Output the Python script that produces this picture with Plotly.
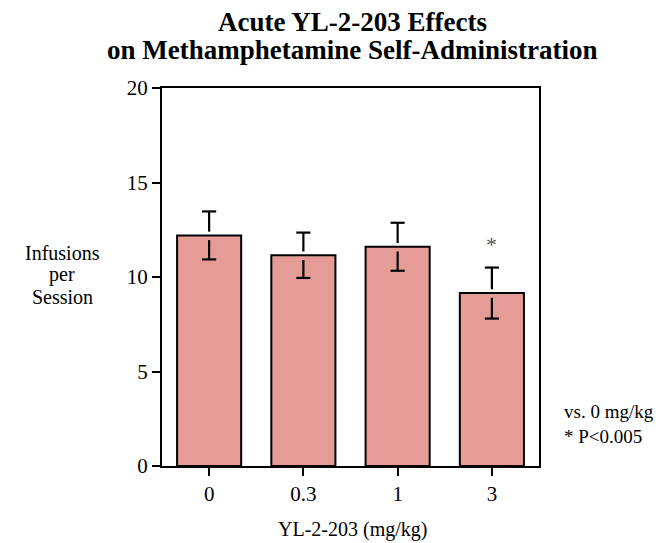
import plotly.graph_objects as go

doses = ["0", "0.3", "1", "3"]
means = [12.2, 11.15, 11.6, 9.15]
sems = [1.27, 1.2, 1.27, 1.35]
sig_marks = ["", "", "", "*"]

title_lines = ["Acute YL-2-203 Effects", "on Methamphetamine Self-Administration"]
ytitle_lines = ["Infusions", "per", "Session"]
note_lines = ["vs. 0 mg/kg", "* P<0.005"]
xtitle = "YL-2-203 (mg/kg)"

x = list(range(len(doses)))
SERIF = "Liberation Serif, Times New Roman, serif"

fig = go.Figure()
fig.add_trace(go.Bar(
    x=x, y=means, width=0.68,
    marker=dict(color="#E59C96", line=dict(color="black", width=2)),
    showlegend=False, hoverinfo="skip"))

# error bars with a gap at the bar top
gap_up, gap_dn, cap = 0.2, 0.25, 0.075
ex, ey = [], []
for xi, m, s in zip(x, means, sems):
    ex += [xi, xi, None, xi - cap, xi + cap, None, xi, xi, None, xi - cap, xi + cap, None]
    ey += [m + gap_up, m + s, None, m + s, m + s, None, m - gap_dn, m - s, None, m - s, m - s, None]
fig.add_trace(go.Scatter(x=ex, y=ey, mode="lines", line=dict(color="black", width=2.2),
                         showlegend=False, hoverinfo="skip"))

for xi, m, s, t in zip(x, means, sems, sig_marks):
    if t:
        fig.add_annotation(x=xi, y=m + s + 1.2, text=t, showarrow=False,
                           font=dict(family=SERIF, size=22, color="#555"))

def text_lines(lines, x0, y_top, dy, anchor, size, bold=False):
    for i, ln in enumerate(lines):
        fig.add_annotation(xref="paper", yref="paper", x=x0, y=y_top - i * dy,
                           xanchor=anchor, yanchor="middle", showarrow=False,
                           text=f"<b>{ln}</b>" if bold else ln,
                           font=dict(family=SERIF, size=size, color="black"))

text_lines(title_lines, 0.504, 1.1746, 0.0741, "center", 27, bold=True)
text_lines(ytitle_lines, -0.265, 0.5635, 0.0582, "center", 20)
text_lines(xtitle.split("\n"), 0.504, -0.169, 0, "center", 20)

fig.add_annotation(xref="paper", yref="paper", x=1.061, y=0.110, xanchor="left", yanchor="middle",
                   text="<br>".join(note_lines), showarrow=False, align="left",
                   font=dict(family=SERIF, size=19, color="black"))

fig.update_layout(
    width=669, height=543,
    margin=dict(l=154, r=138, t=80, b=85),
    paper_bgcolor="white", plot_bgcolor="white",
    font=dict(family=SERIF, size=21, color="black"),
    xaxis=dict(range=[-0.5, 3.5], tickvals=x, ticktext=doses, ticks="outside", ticklen=8,
               tickwidth=2, tickcolor="black", showline=True, linecolor="black", linewidth=2,
               mirror=True, showgrid=False, zeroline=False),
    yaxis=dict(range=[0, 20], tickvals=[0, 5, 10, 15, 20], ticks="outside", ticklen=8,
               tickwidth=2, tickcolor="black", showline=True, linecolor="black", linewidth=2,
               mirror=True, showgrid=False, zeroline=False),
)

fig.write_html("out.html")
